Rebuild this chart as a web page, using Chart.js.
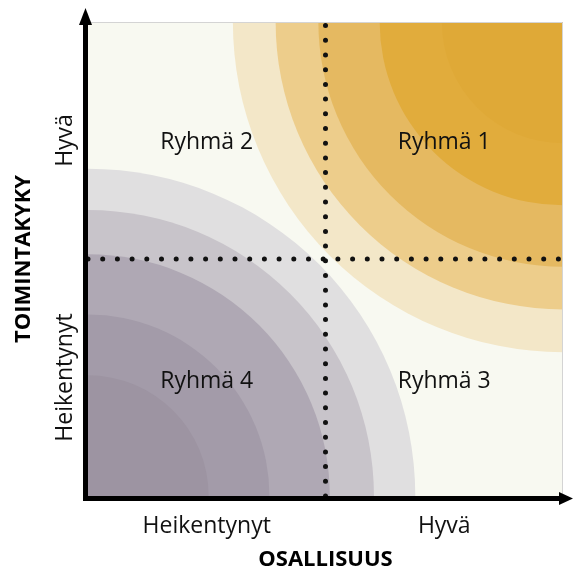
<!DOCTYPE html>
<html>
<head>
<meta charset="utf-8">
<script src="https://cdn.jsdelivr.net/npm/chart.js@4"></script>
<style>
  html, body { margin: 0; padding: 0; background: #fff; }
</style>
</head>
<body>
<canvas id="quadChart" width="573" height="574"></canvas>
<script>
// quadrant groups and where their labels sit (axis units 0..1)
const groups = ['Ryhmä 1', 'Ryhmä 2', 'Ryhmä 3', 'Ryhmä 4'];
const groupX = [0.75, 0.25, 0.75, 0.25];
const groupY = [0.75, 0.75, 0.245, 0.245];

const tickValues = [0.25, 0.75];
const xTickLabels = ['Heikentynyt', 'Hyvä'];
const yTickLabels = ['Heikentynyt', 'Hyvä'];
const xTitle = 'OSALLISUUS';
const yTitle = 'TOIMINTAKYKY';

// dotted split lines
const splitValue = 0.5;

// ring radii in axis units, outermost first
const goodRings = [0.695, 0.605, 0.515, 0.386, 0.255];
const goodColors = ['#F3E7C8', '#EDCD8B', '#E5B961', '#E1AC3C', '#DFA937'];
const weakRings = [0.689, 0.602, 0.509, 0.382, 0.254];
const weakColors = ['#E0DFE0', '#C8C4CA', '#AFA8B4', '#A39BA9', '#9D94A2'];

const FONT = "'Open Sans', sans-serif";

const quadrantPlugin = {
  id: 'quadrants',
  beforeDatasetsDraw(chart) {
    const { ctx, chartArea: a, scales: { x, y } } = chart;
    ctx.save();
    ctx.fillStyle = '#F8F9F1';
    ctx.fillRect(a.left, a.top, a.right - a.left, a.bottom - a.top);
    ctx.beginPath();
    ctx.rect(a.left, a.top, a.right - a.left, a.bottom - a.top);
    ctx.clip();
    const unit = x.getPixelForValue(1) - x.getPixelForValue(0);
    const rings = (cx, cy, radii, colors) => {
      radii.forEach((r, i) => {
        ctx.beginPath();
        ctx.arc(cx, cy, r * unit, 0, Math.PI * 2);
        ctx.fillStyle = colors[i];
        ctx.fill();
      });
    };
    rings(x.getPixelForValue(1), y.getPixelForValue(1), goodRings, goodColors);
    rings(x.getPixelForValue(0), y.getPixelForValue(0), weakRings, weakColors);
    ctx.restore();

    // thin frame on top and right
    ctx.save();
    ctx.strokeStyle = '#D4D4D4';
    ctx.lineWidth = 1;
    ctx.beginPath();
    ctx.moveTo(a.left, a.top + 0.5);
    ctx.lineTo(a.right - 0.5, a.top + 0.5);
    ctx.lineTo(a.right - 0.5, a.bottom);
    ctx.stroke();
    ctx.restore();
  },
  afterDraw(chart) {
    const { ctx, chartArea: a, scales: { x, y } } = chart;
    ctx.save();
    // axis lines with arrow heads
    ctx.fillStyle = '#000';
    ctx.strokeStyle = '#000';
    ctx.lineWidth = 5;
    const ax = a.left - 2.5, ay = a.bottom + 2.5;
    ctx.beginPath();
    ctx.moveTo(ax, ay + 2.5);
    ctx.lineTo(ax, a.top + 3);
    ctx.moveTo(ax - 2.5, ay);
    ctx.lineTo(a.right - 4, ay);
    ctx.stroke();
    ctx.beginPath();
    ctx.moveTo(ax, a.top - 14);
    ctx.lineTo(ax - 6.5, a.top + 3);
    ctx.lineTo(ax + 6.5, a.top + 3);
    ctx.closePath();
    ctx.fill();
    ctx.beginPath();
    ctx.moveTo(a.right + 10, ay);
    ctx.lineTo(a.right - 4, ay - 6.5);
    ctx.lineTo(a.right - 4, ay + 6.5);
    ctx.closePath();
    ctx.fill();

    // tick labels
    ctx.font = '23px ' + FONT;
    ctx.fillStyle = '#111';
    ctx.textAlign = 'center';
    ctx.textBaseline = 'alphabetic';
    tickValues.forEach((v, i) => {
      ctx.fillText(xTickLabels[i], x.getPixelForValue(v), a.bottom + 37);
    });
    tickValues.forEach((v, i) => {
      ctx.save();
      ctx.translate(a.left - 16, y.getPixelForValue(v));
      ctx.rotate(-Math.PI / 2);
      ctx.fillText(yTickLabels[i], 0, 0);
      ctx.restore();
    });

    // group labels
    groups.forEach((g, i) => {
      ctx.fillText(g, x.getPixelForValue(groupX[i]), y.getPixelForValue(groupY[i]) + 8);
    });
    ctx.restore();
  }
};

const ctx = document.getElementById('quadChart').getContext('2d');
const dotted = {
  showLine: true,
  pointRadius: 0,
  pointHoverRadius: 0,
  borderColor: '#111',
  borderWidth: 5,
  borderDash: [0, 14.7],
  borderCapStyle: 'round'
};
const chart = new Chart(ctx, {
  type: 'scatter',
  data: {
    datasets: [
      Object.assign({ data: [{ x: splitValue, y: 0 }, { x: splitValue, y: 1 }] }, dotted),
      Object.assign({ data: [{ x: 0, y: splitValue }, { x: 1, y: splitValue }] }, dotted)
    ]
  },
  options: {
    responsive: false,
    devicePixelRatio: 1,
    animation: false,
    layout: { padding: { top: 22, right: 10, left: 0, bottom: 0 } },
    plugins: { legend: { display: false }, tooltip: { enabled: false } },
    scales: {
      x: {
        type: 'linear', min: 0, max: 1,
        grid: { display: false, drawTicks: false },
        border: { display: false },
        ticks: { display: false },
        title: {
          display: true, text: xTitle, color: '#000',
          font: { family: FONT, size: 22, weight: 'bold' },
          padding: { top: 0, bottom: 1 }
        },
        afterFit(s) { s.height = 78; }
      },
      y: {
        type: 'linear', min: 0, max: 1,
        grid: { display: false, drawTicks: false },
        border: { display: false },
        ticks: { display: false },
        title: {
          display: true, text: yTitle, color: '#000',
          font: { family: FONT, size: 22, weight: 'bold' },
          padding: { top: 11, bottom: 0 }
        },
        afterFit(s) { s.width = 88; }
      }
    }
  },
  plugins: [quadrantPlugin]
});
</script>
</body>
</html>
